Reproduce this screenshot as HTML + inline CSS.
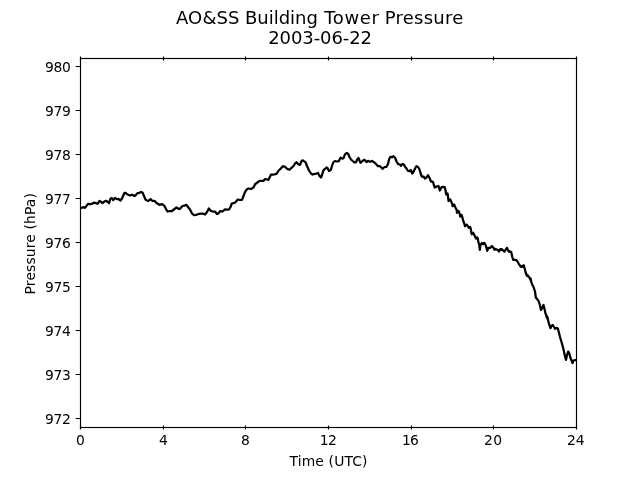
<!DOCTYPE html>
<html lang="en">
<head>
<meta charset="utf-8">
<title>AO&amp;SS Building Tower Pressure 2003-06-22</title>
<style>
html,body{margin:0;padding:0;background:#fff;overflow:hidden}
body{width:640px;height:480px}
svg{display:block}
text{font-family:'DejaVu Sans','Liberation Sans',sans-serif;fill:#000;white-space:pre}
.t{font-size:18px}
.l{font-size:13.89px}
</style>
</head>
<body>
<svg width="640" height="480" viewBox="0 0 640 480">
<rect width="640" height="480" fill="#fff"/>
<text class="t" y="23.8"><tspan x="176.00" textLength="63.55" lengthAdjust="spacing">AO&amp;SS</tspan> <tspan x="245.04" textLength="72.79" lengthAdjust="spacing">Building</tspan> <tspan x="324.23" textLength="54.72" lengthAdjust="spacing">Tower</tspan> <tspan x="384.76" textLength="78.57" lengthAdjust="spacing">Pressure</tspan></text>
<text class="t" x="268.20" y="43.80" textLength="103.78" lengthAdjust="spacing">2003-06-22</text>
<g stroke="#000" stroke-width="1.15" fill="none">
<path d="M80.5,425.50V429.50M80.5,56.50V60.50M163.5,425.50V429.50M163.5,56.50V60.50M245.5,425.50V429.50M245.5,56.50V60.50M328.5,425.50V429.50M328.5,56.50V60.50M411.5,425.50V429.50M411.5,56.50V60.50M493.5,425.50V429.50M493.5,56.50V60.50M576.5,425.50V429.50M576.5,56.50V60.50M75.55,66.5H80.5M75.55,110.5H80.5M75.55,154.5H80.5M75.55,198.5H80.5M75.55,242.5H80.5M75.55,286.5H80.5M75.55,330.5H80.5M75.55,374.5H80.5M75.55,418.5H80.5"/>
<rect x="80.5" y="58.5" width="496.0" height="369.0"/>
</g>
<text class="l" x="75.98" y="445">0</text>
<text class="l" x="158.98" y="445">4</text>
<text class="l" x="240.98" y="445">8</text>
<text class="l" x="319.80 327.92" y="445">12</text>
<text class="l" x="402.06 410.08" y="445">16</text>
<text class="l" x="483.97 493.18" y="445">20</text>
<text class="l" x="567.02 575.73" y="445">24</text>
<text class="l" x="45.05 53.45 61.9" y="71.6">980</text>
<text class="l" x="45.05 53.45 61.9" y="115.6">979</text>
<text class="l" x="45.05 53.45 61.9" y="159.6">978</text>
<text class="l" x="45.05 53.45 61.9" y="203.6">977</text>
<text class="l" x="45.05 53.45 61.9" y="247.6">976</text>
<text class="l" x="45.05 53.45 61.9" y="291.6">975</text>
<text class="l" x="45.05 53.45 61.9" y="335.6">974</text>
<text class="l" x="45.05 53.45 61.9" y="379.6">973</text>
<text class="l" x="45.05 53.45 61.9" y="423.6">972</text>
<text class="l" x="289.52" y="465.60" textLength="78.00" lengthAdjust="spacing">Time (UTC)</text>
<text class="l" transform="rotate(-90)" x="-294.40" y="34.8" textLength="101.27" lengthAdjust="spacing">Pressure (hPa)</text>
<path d="M80.5,208.2 L83,207.2 L85,207.8 L86,206.5 L88,203.8 L90,204.2 L92,203.8 L93.8,202.7 L96,203.2 L97.5,203.8 L99.5,201 L101,201.8 L102.5,203 L104,201.8 L106,200.8 L107.5,201.8 L109,203.2 L110.5,198.5 L111.8,198.2 L113.2,200 L115,198 L117,199.2 L118.5,199 L120.5,200.5 L122,198.5 L124.5,192.8 L125.5,192.8 L127.5,194.5 L130,195.5 L132,194.7 L134.5,196 L136,194.8 L137.5,193.2 L139.5,192.8 L141,192 L142.5,192.5 L144,196 L145.5,199.5 L147,200.5 L148.5,200.8 L150.5,199.2 L152.5,201 L154.5,200.8 L156.5,203 L159.5,204.8 L162,204.2 L164.5,206 L166,209 L167.5,211.5 L170,211 L172,211 L174.5,209 L176.5,207.5 L178.5,208.8 L180,208.8 L182.5,206 L184.5,205.7 L186.5,204.8 L188,207 L190,209.5 L192,213.5 L194,215.2 L196,215 L199,213.8 L202.5,213.5 L205,214.5 L207,212 L208.8,208.5 L211,211 L213,211.5 L215,211.5 L217,214 L218.5,213.5 L220,211.2 L222.5,211.5 L225,209.3 L227,209.7 L229,209.5 L230.5,207 L231.8,203.5 L233.5,203.2 L235.5,202.2 L237.8,199.5 L240,200 L242,199.8 L243.5,196 L245,192 L247,189.2 L248.5,188.5 L251,189 L253.5,187.5 L255.5,183.5 L256,183.5 L259.5,180.8 L263,181 L265.5,179 L268.5,179.8 L271,174.5 L274,174.5 L276.5,173.8 L278.5,170.8 L281,168.2 L282.8,166.2 L285,166.8 L287,168.8 L289.5,169.8 L291.5,167.8 L293.5,166 L295,163.5 L296.5,162.3 L298.5,164.5 L300,164.8 L301.5,161.2 L302.5,160.3 L304.2,161.4 L305.6,162.3 L307,166 L309,170.5 L311,173.5 L312.5,174.5 L315,173.8 L316,173.8 L318,173 L319.5,176 L321,177.5 L322,175 L323.5,170.2 L325,168.8 L326.5,167.5 L327.8,168.5 L329,171 L330.8,170 L332,166 L333.2,162.5 L335,161 L337,161.5 L338.8,161.2 L340.6,157.6 L342.3,158.6 L343.5,158.2 L345,154.3 L346.8,152.9 L348.1,153.8 L349.5,157 L351,159.5 L352.8,161 L354.5,162.5 L356,162.2 L357.2,159.5 L358.5,158 L359.5,160.5 L360.5,162.8 L362.5,161 L364.5,159.8 L366.5,162 L368,160.8 L370,161.8 L372,161 L374,162.2 L376,164 L378,166.2 L380,166.2 L382.5,168.8 L384.5,167 L386.5,166.8 L388,164 L389.2,159 L390.5,156.8 L392,157.2 L393.5,156.2 L395.2,158 L396.5,161.5 L398.2,164.2 L400,164.5 L401,165.8 L402.5,164 L404,164.8 L405.2,167 L406.5,168.5 L408,171 L409.5,171.2 L410.8,170 L412.2,173.5 L413.5,172 L415,168.5 L416.5,166.2 L418,167 L419.5,169.5 L420.5,173 L421.8,176.5 L423.5,176.5 L425,178.5 L426.5,177.5 L428,175.2 L429.5,178 L431,181.5 L432,181.5 L433,182 L434,185.5 L434.8,187.5 L436.5,186.5 L438.5,186 L439.8,190.5 L440.6,189 L441.6,187.1 L443,186.9 L444.65,187.2 L445.5,190 L445.9,192.75 L446.25,194.5 L447.5,193.5 L447.9,195.5 L448.25,198.75 L448.6,201 L450.25,199.5 L451.1,201.5 L452.25,204 L452.6,206.15 L454.25,204.6 L455,206.75 L456.6,209.75 L457,212.8 L458.5,210.9 L459.6,213.4 L459.9,214.5 L460.25,216.65 L461.6,214.9 L462.4,217.5 L463.25,221 L464.25,223.5 L465,226.25 L466.5,224.6 L467.75,226 L468.75,227.75 L470,226.85 L470.75,228.5 L471.1,231.5 L471.75,234.25 L473,232.6 L474.25,234.75 L475.25,237 L476,238.5 L477.25,237.35 L478,239.5 L478.2,241.5 L479.2,244.5 L479.8,249.8 L480.5,245 L481.8,243 L483,244 L484.5,243 L485.8,245.5 L487.2,250.8 L488.5,247.8 L490,248 L491.8,246 L493.2,247.5 L494.5,249.5 L496,249.2 L497.8,250 L499,251.5 L500.2,249.2 L501.8,249.2 L503.2,250.5 L504.5,251.5 L505.8,249.5 L507,247.8 L508.2,250.8 L509.8,251.5 L511.2,252 L512.2,256.5 L513.2,259.8 L515,259.8 L516.5,260.2 L518,262.5 L519.5,265 L521,266.8 L522.5,266.5 L523.8,265.2 L524.8,269 L525.8,273 L526.8,275.5 L528.5,276.5 L530.5,279 L531.5,282.5 L532,284 L533.5,287 L535,291.5 L535.8,297.5 L537.5,299.5 L538.8,301.5 L540,305.5 L541,310 L542.2,308 L543.5,305 L544.5,309 L545.5,313.5 L546.8,316.5 L548,319.5 L548.5,322 L549.5,325.5 L550.5,328.2 L551.5,326 L552.8,325 L554,327 L555.2,328.8 L556.5,327.8 L557.8,328.5 L558.8,332 L560,337 L561.5,342 L562.8,346.5 L564,351.5 L565,356.5 L566,359.8 L567,355 L568.2,351.5 L569.2,353 L570.2,357 L571.5,360.5 L572.5,363 L573.5,360.5 L575,360.2 L576.5,360.2" fill="none" stroke="#000" stroke-width="2.25" stroke-linejoin="round" stroke-linecap="butt"/>
<path d="M501.1,249.6h0.01M509.4,251.6h0.01M522.3,266.2h0.01M521.6,266.6h0.01M527.3,275.3h0.01M530.3,278.8h0.01M483,243.8h0.01M494.6,249.1h0.01M547,316.9h0.01" fill="none" stroke="#000" stroke-width="3" stroke-linecap="round"/>
</svg>
</body>
</html>
